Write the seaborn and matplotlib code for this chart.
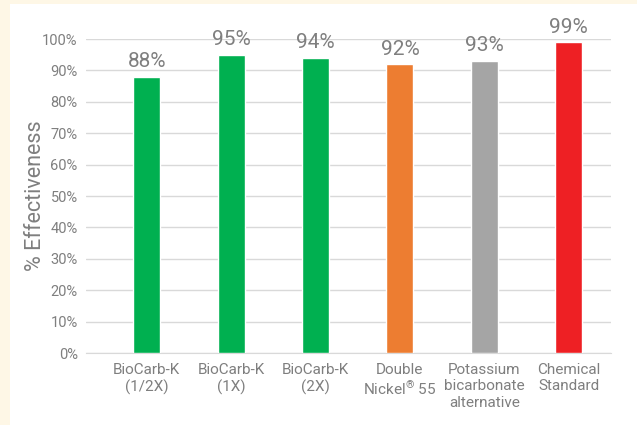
import matplotlib
matplotlib.use("Agg")
import matplotlib.pyplot as plt
import seaborn as sns
import pandas as pd
from matplotlib.ticker import PercentFormatter
from matplotlib.patches import Rectangle

# Du lieu doc tu bieu do goc
products = ["BioCarb-K\n(1/2X)", "BioCarb-K\n(1X)", "BioCarb-K\n(2X)",
            "Double\nNickel$^{\u00ae}$ 55", "Potassium\nbicarbonate\nalternative",
            "Chemical\nStandard"]
effectiveness = [88, 95, 94, 92, 93, 99]
bar_colors = ["#00b050", "#00b050", "#00b050", "#ed7d31", "#a5a5a5", "#ee2024"]

df = pd.DataFrame({"product": products, "effectiveness": effectiveness})

sns.set_style("white")
plt.rcParams["font.family"] = ["Roboto", "DejaVu Sans"]
plt.rcParams["mathtext.default"] = "regular"

text_gray = "#7f7f7f"
cream = "#fef7e6"

fig = plt.figure(figsize=(6.37, 4.25), dpi=100, facecolor=cream)
# khung trang phia sau
fig.patches.append(Rectangle((10 / 637, 0.0), 1.0, 1 - 4 / 425, transform=fig.transFigure,
                             facecolor="white", edgecolor="none", zorder=-1))
ax = fig.add_axes([0.135, 0.1694, 0.824, 0.7388])
ax.set_facecolor("white")

sns.barplot(data=df, x="product", y="effectiveness", hue="product",
            palette=bar_colors, legend=False, width=0.32, saturation=1, ax=ax,
            zorder=3)

ax.set_ylim(0, 100)
ax.set_xlim(-0.72, 5.5)
ax.set_yticks(range(0, 101, 10))
ax.yaxis.set_major_formatter(PercentFormatter(decimals=0))
ax.grid(axis="y", color="#d9d9d9", linewidth=1, zorder=0)
ax.set_axisbelow(True)
for s in ["top", "right", "left"]:
    ax.spines[s].set_visible(False)
ax.spines["bottom"].set_color("#d9d9d9")

ax.tick_params(axis="y", length=0, labelsize=10.5, labelcolor=text_gray, pad=6)
ax.tick_params(axis="x", length=0, labelsize=11, labelcolor=text_gray, pad=7)
for lbl in ax.get_xticklabels():
    lbl.set_linespacing(1.25)

ax.set_xlabel("")
ax.set_ylabel("% Effectiveness", fontsize=15.5, color=text_gray)
ax.yaxis.set_label_coords(-0.097, 0.5)
ax.yaxis.label.set_va("center")

# nhan gia tri tren moi cot
for i, v in enumerate(effectiveness):
    ax.annotate(f"{v}%", (i, v), xytext=(0, 4), textcoords="offset points",
                ha="center", va="bottom", fontsize=15, color=text_gray,
                annotation_clip=False)

fig.savefig("out.png", dpi=100, facecolor=cream)
